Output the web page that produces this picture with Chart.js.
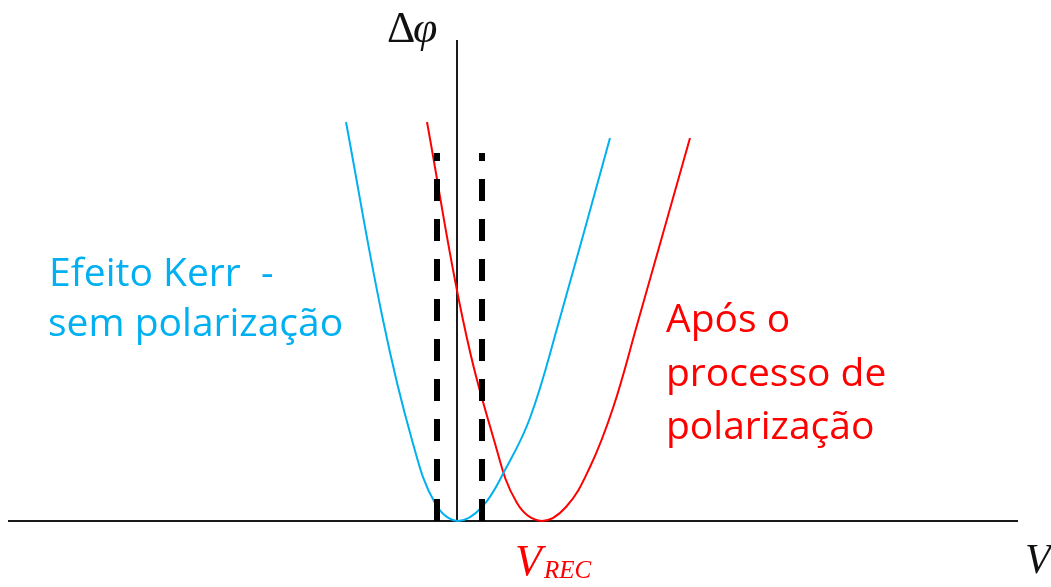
<!DOCTYPE html>
<html>
<head>
<meta charset="utf-8">
<script src="https://cdn.jsdelivr.net/npm/chart.js@4/dist/chart.umd.min.js"></script>
<style>
  html, body { margin: 0; padding: 0; background: #ffffff; }
  #kerr { display: block; }
</style>
</head>
<body>
<canvas id="kerr" width="1051" height="587"></canvas>
<script>
// Tensão aplicada (V) e defasagem (Δφ), unidades arbitrárias
const kerrV   = [-1.11, -0.74, -0.45, -0.22, 0.01, 0.25, 0.48, 0.73, 1.01, 1.53];
const kerrPhi = [3.99, 2.01, 0.81, 0.18, 0, 0.14, 0.51, 1.03, 1.96, 3.83];

const polV   = [-0.30, 0.06, 0.37, 0.60, 0.85, 1.09, 1.33, 1.56, 1.80, 2.33];
const polPhi = [3.99, 2.01, 0.81, 0.18, 0, 0.14, 0.54, 1.13, 1.96, 3.83];

// janela de tensão marcada pelas linhas tracejadas
const windowV = [-0.20, 0.25];
const windowTop = 3.68;

// extensão dos eixos
const axisV = [-4.49, 5.61];
const axisPhi = [0, 4.81];

const colors = {
    kerr: '#00b0f0',
    pol: '#ff0000',
    axis: '#1a1a1a',
    dash: '#000000'
};

const toXY = (xs, ys) => xs.map((x, i) => ({ x: x, y: ys[i] }));

function dashedLine(v) {
    return {
        data: [{ x: v, y: 0 }, { x: v, y: windowTop }],
        borderColor: colors.dash,
        borderWidth: 6,
        borderDash: [22, 18],
        pointRadius: 0,
        tension: 0,
        clip: false
    };
}

function curve(xs, ys, color) {
    return {
        data: toXY(xs, ys),
        borderColor: color,
        borderWidth: 2,
        pointRadius: 0,
        tension: 0.4,
        clip: false
    };
}

// textos e rótulos desenhados sobre o gráfico
const labelsPlugin = {
    id: 'labels',
    afterDatasetsDraw(chart) {
        const ctx = chart.ctx;
        ctx.save();
        ctx.textBaseline = 'alphabetic';
        ctx.textAlign = 'left';

        // Δφ no topo do eixo vertical
        ctx.fillStyle = '#111111';
        ctx.font = '44px "Liberation Serif"';
        ctx.fillText('Δ', 387, 42);
        ctx.font = 'italic 44px "Liberation Serif"';
        ctx.fillText('φ', 413, 42);

        // V no fim do eixo horizontal
        ctx.font = 'italic 42px "Liberation Serif"';
        ctx.fillText('V', 1025, 573);

        // V_REC
        ctx.fillStyle = colors.pol;
        ctx.font = 'italic 44px "Liberation Serif"';
        ctx.fillText('V', 515, 575);
        ctx.font = 'italic 25px "Liberation Serif"';
        ctx.fillText('REC', 544, 578);

        ctx.font = '39px "Open Sans"';
        ctx.fillStyle = colors.kerr;
        ctx.fillText('Efeito Kerr  -', 49, 286);
        ctx.fillText('sem polarização', 48, 336);

        ctx.fillStyle = colors.pol;
        ctx.fillText('Após o', 666, 332);
        ctx.fillText('processo de', 666, 386);
        ctx.fillText('polarização', 666, 439);
        ctx.restore();
    }
};

new Chart(document.getElementById('kerr'), {
    type: 'line',
    data: {
        datasets: [
            dashedLine(windowV[0]),
            dashedLine(windowV[1]),
            curve(kerrV, kerrPhi, colors.kerr),
            curve(polV, polPhi, colors.pol),
            {
                data: [{ x: axisV[0], y: 0 }, { x: axisV[1], y: 0 }],
                borderColor: colors.axis,
                borderWidth: 2,
                pointRadius: 0,
                clip: false
            },
            {
                data: [{ x: 0, y: axisPhi[0] }, { x: 0, y: axisPhi[1] }],
                borderColor: colors.axis,
                borderWidth: 2,
                pointRadius: 0,
                clip: false
            }
        ]
    },
    options: {
        responsive: false,
        animation: false,
        layout: {
            padding: { left: 8, right: 33, top: 40, bottom: 66 }
        },
        plugins: {
            legend: { display: false },
            tooltip: { enabled: false }
        },
        scales: {
            x: { type: 'linear', display: false, min: axisV[0], max: axisV[1] },
            y: { type: 'linear', display: false, min: axisPhi[0], max: axisPhi[1] }
        }
    },
    plugins: [labelsPlugin]
});
</script>
</body>
</html>
